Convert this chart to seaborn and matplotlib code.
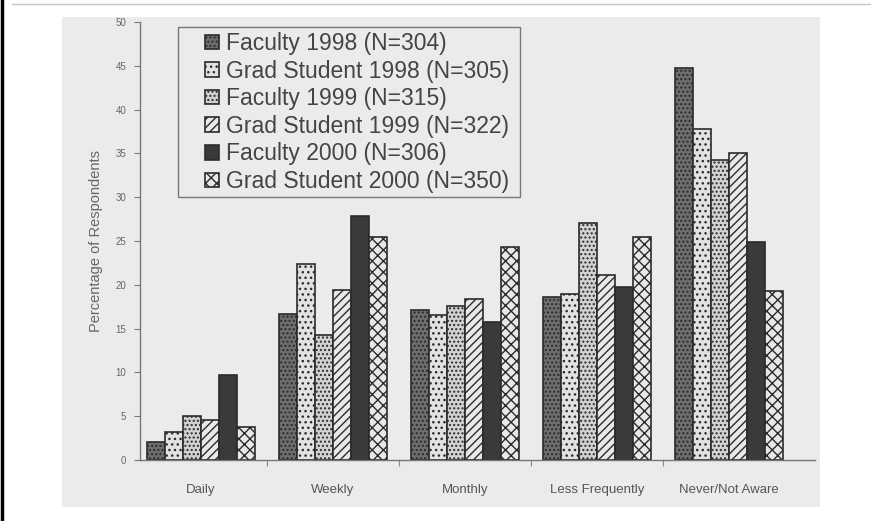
import matplotlib
matplotlib.use("Agg")
import matplotlib.pyplot as plt
from matplotlib.patches import Rectangle
from matplotlib.lines import Line2D
import pandas as pd
import seaborn as sns

W, H = 891, 521

frequencies = ["Daily", "Weekly", "Monthly", "Less Frequently", "Never/Not Aware"]
groups = [
    "Faculty 1998 (N=304)",
    "Grad Student 1998 (N=305)",
    "Faculty 1999 (N=315)",
    "Grad Student 1999 (N=322)",
    "Faculty 2000 (N=306)",
    "Grad Student 2000 (N=350)",
]
faculty_1998 = [2.0, 16.7, 17.1, 18.6, 44.8]
grad_1998 = [3.2, 22.4, 16.5, 19.0, 37.8]
faculty_1999 = [5.0, 14.3, 17.6, 27.0, 34.3]
grad_1999 = [4.6, 19.4, 18.4, 21.1, 35.1]
faculty_2000 = [9.7, 27.9, 15.7, 19.7, 24.9]
grad_2000 = [3.8, 25.4, 24.3, 25.5, 19.3]
y_ticks = list(range(0, 51, 5))

# bar looks: fill + hatch for each series
face_colors = ["#6e6e6e", "#e2e2e2", "#d2d2d2", "#e8e8e8", "#3a3a3a", "#e8e8e8"]
hatches = ["....", "...", "....", "////", "", "xxx"]

series = [faculty_1998, grad_1998, faculty_1999, grad_1999, faculty_2000, grad_2000]
df = pd.DataFrame(
    [
        {"frequency": f, "group": g, "percent": v}
        for g, vals in zip(groups, series)
        for f, v in zip(frequencies, vals)
    ]
)


def px(x, y):
    return x / W, 1 - y / H


sns.set_theme(style="white")
plt.rcParams["font.family"] = ["Liberation Sans", "DejaVu Sans"]
plt.rcParams["hatch.linewidth"] = 1.0

fig = plt.figure(figsize=(W / 100, H / 100), dpi=100)
fig.patch.set_facecolor("white")

# scanned page look: grey panel, left border, top rule
x0, y0 = px(62, 507)
fig.patches.append(
    Rectangle((x0, y0), 758 / W, 490 / H, transform=fig.transFigure,
              facecolor="#ebebeb", edgecolor="none", zorder=-5)
)
fig.add_artist(Line2D([1.5 / W, 1.5 / W], [0, 1], color="black", lw=2.5))
fig.add_artist(Line2D([12 / W, 870 / W], [1 - 4 / H] * 2, color="#c4c4c4", lw=1))

left, bottom = px(140, 460)
right, top = px(815, 22)
ax = fig.add_axes([left, bottom, right - left, top - bottom])
ax.set_facecolor("none")

sns.barplot(
    data=df, x="frequency", y="percent", hue="group",
    order=frequencies, hue_order=groups,
    palette=dict(zip(groups, face_colors)),
    width=0.82, saturation=1, edgecolor="#2b2b2b", linewidth=1.2,
    legend=False, ax=ax,
)
for container, hatch in zip(ax.containers, hatches):
    for bar in container:
        bar.set_hatch(hatch)

ax.set_ylim(0, 50)
ax.set_xlim(-0.46, 4.65)
ax.set_yticks(y_ticks)
ax.set_xticks([i + 0.5 for i in range(4)], minor=True)
ax.tick_params(axis="y", direction="out", length=4, width=0.8, color="#777",
               labelsize=7, labelcolor="#666", pad=6, left=True)
ax.tick_params(axis="x", which="major", length=0, pad=17, labelsize=9.5,
               labelcolor="#555")
ax.tick_params(axis="x", which="minor", direction="out", length=4, width=0.8,
               color="#888", bottom=True)
for side in ["top", "right"]:
    ax.spines[side].set_visible(False)
for side in ["left", "bottom"]:
    ax.spines[side].set_color("#777")
    ax.spines[side].set_linewidth(1.0)

ax.set_xlabel("")
ax.set_ylabel("Percentage of Respondents", fontsize=10.5, color="#666", labelpad=9)

# legend frame drawn separately so the inner padding can be wider
lx, ly = px(178, 197)
frame = Rectangle((lx, ly), 342 / W, 170 / H, transform=fig.transFigure,
                  facecolor="#ebebeb", edgecolor="#777", lw=1.0, zorder=4,
                  clip_on=False)
ax.add_patch(frame)
leg = ax.legend(
    handles=ax.containers, labels=groups,
    loc="upper left", bbox_to_anchor=px(205, 32), bbox_transform=fig.transFigure,
    frameon=False, fontsize=16.5, handlelength=0.6, handleheight=0.6,
    handletextpad=0.3, labelspacing=0.2, borderpad=0, borderaxespad=0,
)
leg.set_zorder(5)
for t in leg.get_texts():
    t.set_color("#444")

fig.savefig("out.png", dpi=100)
